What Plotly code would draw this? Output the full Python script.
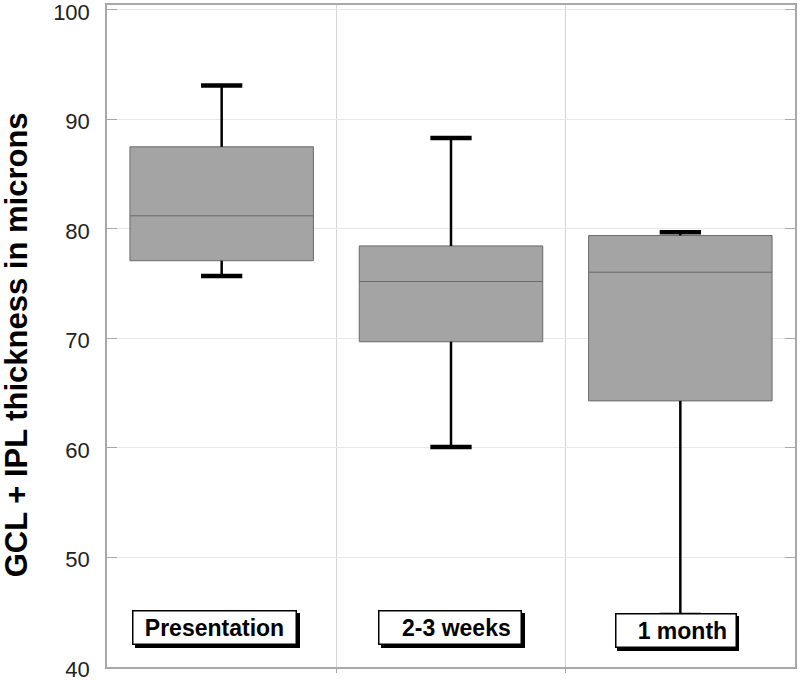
import plotly.graph_objects as go

categories = ["Presentation", "2-3 weeks", "1 month"]
label_texts = ["Presentation", "&nbsp;&nbsp;2-3 weeks", "&nbsp;&nbsp;1 month"]
q1 = [77.1, 69.7, 64.3]
median = [81.2, 75.2, 76.05]
q3 = [87.5, 78.45, 79.4]
whisker_min = [75.7, 60.1, 44.75]
whisker_max = [93.1, 88.3, 79.7]
y_ticks = [40, 50, 60, 70, 80, 90, 100]
y_title = "GCL + IPL thickness in microns"

xs = list(range(len(categories)))
cap_half = 0.09

fig = go.Figure()

# whisker stems
wx, wy = [], []
for i in xs:
    wx += [i, i, None, i, i, None]
    wy += [q3[i], whisker_max[i], None, q1[i], whisker_min[i], None]
fig.add_trace(go.Scatter(x=wx, y=wy, mode="lines",
                         line=dict(color="black", width=2.5),
                         hoverinfo="skip", showlegend=False))
# caps
cx, cy = [], []
for i in xs:
    cx += [i - cap_half, i + cap_half, None, i - cap_half, i + cap_half, None]
    cy += [whisker_max[i], whisker_max[i], None, whisker_min[i], whisker_min[i], None]
fig.add_trace(go.Scatter(x=cx, y=cy, mode="lines",
                         line=dict(color="black", width=4.5),
                         hoverinfo="skip", showlegend=False))

# boxes
fig.add_trace(go.Box(x=xs, q1=q1, median=median, q3=q3,
                     lowerfence=q1, upperfence=q3,
                     width=0.8, whiskerwidth=0,
                     fillcolor="#a4a4a4",
                     line=dict(color="#6a6a6a", width=1),
                     boxpoints=False, showlegend=False))

# category labels (shadow + box)
label_cfg = [
    dict(x=-0.031, y=43.6, w=162, h=32),
    dict(x=0.996, y=43.6, w=141, h=32),
    dict(x=1.981, y=43.3, w=119, h=32),
]
for txt, cfg in zip(label_texts, label_cfg):
    fig.add_annotation(x=cfg["x"], y=cfg["y"], xref="x", yref="y",
                       text="&nbsp;", showarrow=False, width=cfg["w"], height=cfg["h"],
                       bgcolor="black", bordercolor="black", borderwidth=1.5,
                       borderpad=0, xshift=2.5, yshift=-2.5,
                       font=dict(family="Liberation Sans", size=23, color="black"))
    fig.add_annotation(x=cfg["x"], y=cfg["y"], xref="x", yref="y",
                       text="<b>" + txt + "</b>", showarrow=False,
                       width=cfg["w"], height=cfg["h"], align="center",
                       bgcolor="white", bordercolor="black", borderwidth=1.5,
                       borderpad=0,
                       font=dict(family="Liberation Sans", size=23, color="black"))

# y-axis title
fig.add_annotation(x=0, y=0.486, xref="paper", yref="paper",
                   xanchor="center", yanchor="middle", xshift=-91,
                   text="<b>" + y_title + "</b>", textangle=-90, showarrow=False,
                   font=dict(family="Liberation Sans", size=31, color="black"))

fig.update_layout(
    width=800, height=680,
    margin=dict(l=107, r=5, t=5, b=13, autoexpand=False),
    paper_bgcolor="white", plot_bgcolor="white",
    font=dict(family="Liberation Sans", color="#222222"),
    xaxis=dict(range=[-0.5, 2.5], tickvals=[0.5, 1.5], showticklabels=False,
               showgrid=True, gridcolor="#d4d4d4", gridwidth=1,
               showline=True, linecolor="#a8a8a8", linewidth=1.5, mirror=True,
               ticks="outside", ticklen=4, tickcolor="#a8a8a8", zeroline=False,
               automargin=False),
    yaxis=dict(range=[40, 100.45], tickvals=y_ticks,
               showgrid=True, gridcolor="#e8e8e8", gridwidth=1,
               showline=True, linecolor="#a8a8a8", linewidth=1.5, mirror="ticks",
               ticks="inside", ticklen=10, tickcolor="#a8a8a8",
               tickfont=dict(size=22, color="#222222"),
               ticklabelstandoff=11, ticklabelshift=2, ticklabeloverflow="allow",
               zeroline=False, automargin=False),
)

fig.write_html("out.html", config={"displayModeBar": False},
               post_script="document.body.style.margin='0px';")
